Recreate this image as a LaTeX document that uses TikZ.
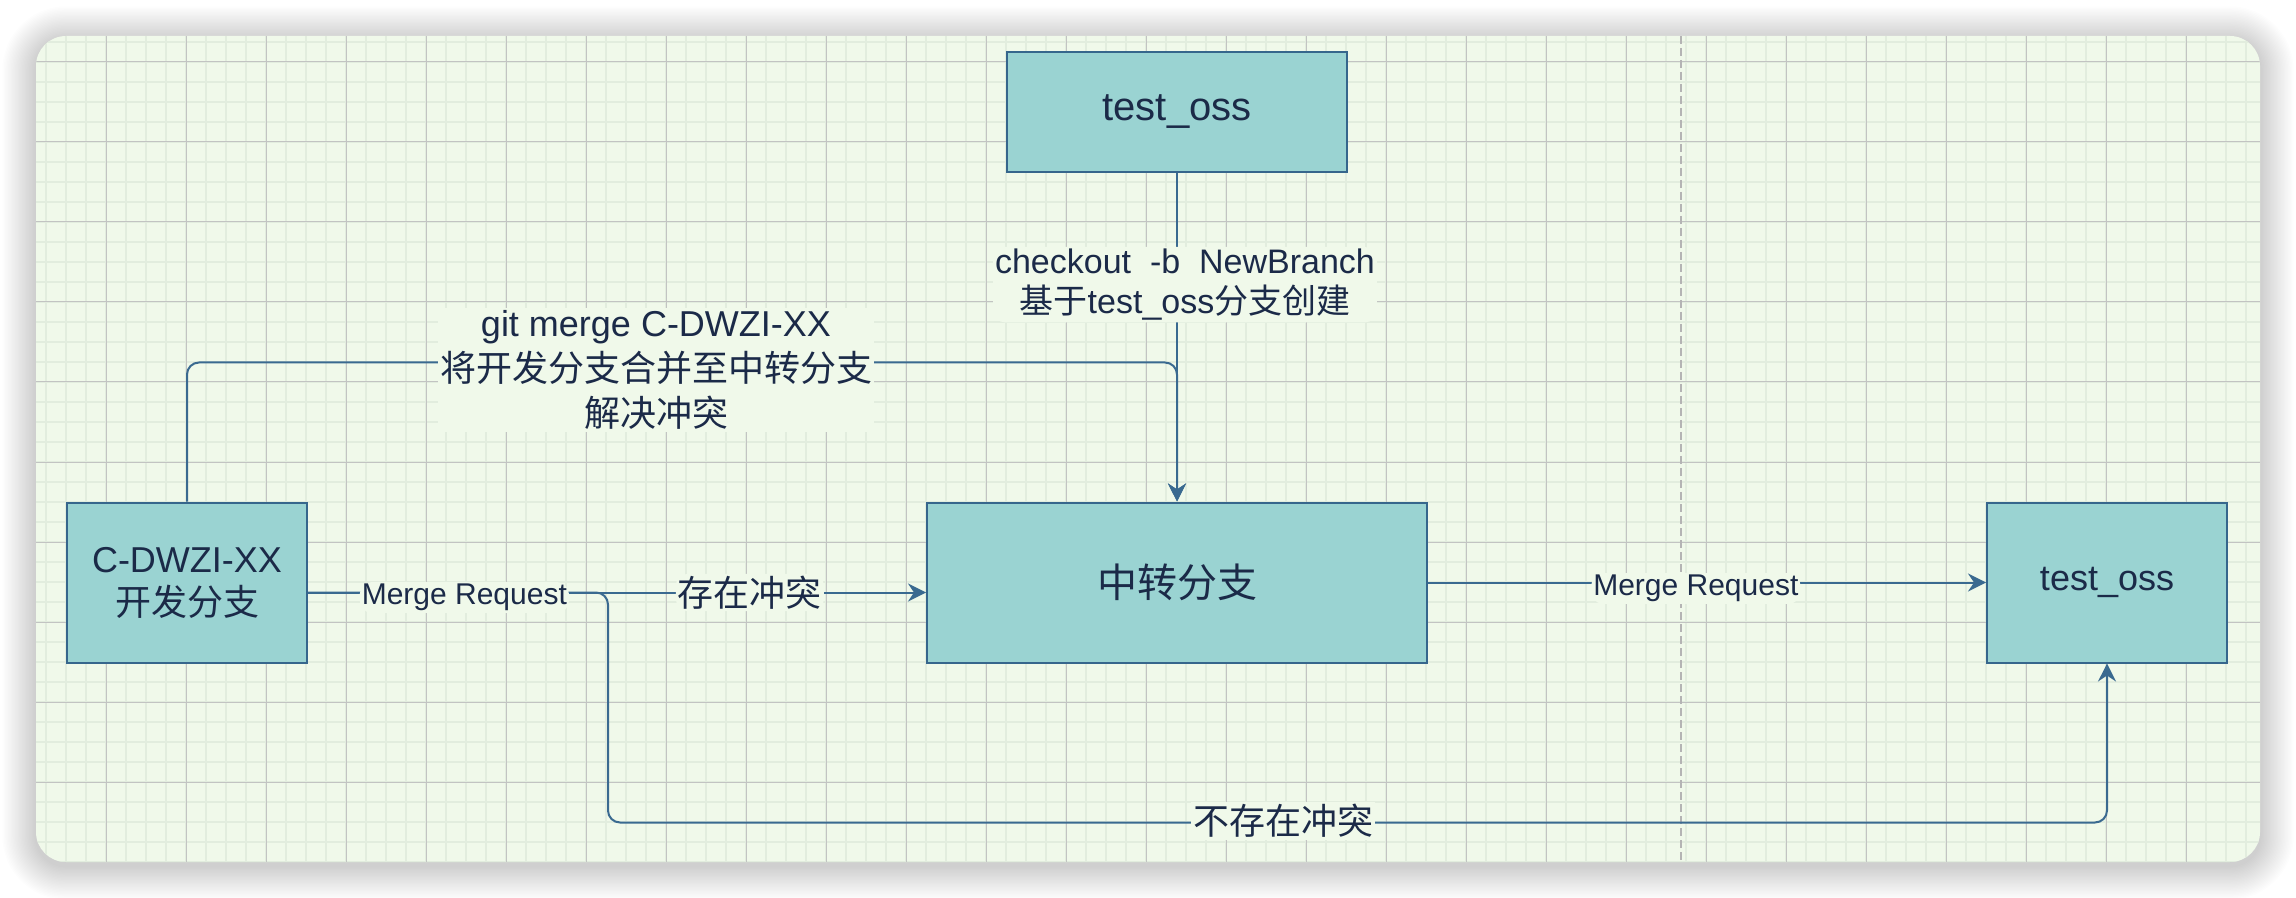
\documentclass[tikz,border=0pt]{standalone}
\usepackage{fontspec}
\setmainfont{Liberation Sans}
\newfontfamily\cjk{Noto Sans CJK SC}
\usetikzlibrary{arrows.meta}
\definecolor{panelbg}{HTML}{F0F9EA}
\definecolor{minorgrid}{HTML}{E2EDDE}
\definecolor{majorgrid}{HTML}{C2C4C2}
\definecolor{boxfill}{HTML}{9AD3D2}
\definecolor{boxline}{HTML}{36668C}
\definecolor{edgecol}{HTML}{3A6A90}
\definecolor{txt}{HTML}{1B2A48}
\definecolor{dashcol}{HTML}{B4B4B4}
\begin{document}
\begin{tikzpicture}[x=0.5pt,y=-0.5pt,
  box/.style={draw=boxline, line width=1pt, fill=boxfill, text=txt, inner sep=0pt, align=center},
  edge/.style={draw=edgecol, line width=1pt, rounded corners=6pt, -{Stealth[length=9pt,width=9pt,inset=3pt]}},
  lbl/.style={fill=panelbg, text=txt, inner sep=1pt, align=center},
  f40/.style={font=\fontsize{20}{24}\selectfont},
  f36/.style={font=\fontsize{18}{21.5}\selectfont},
  f36l/.style={font=\fontsize{18}{22.5}\selectfont},
  f34/.style={font=\fontsize{17}{20}\selectfont},
  f30/.style={font=\fontsize{15}{18}\selectfont},
]
\useasboundingbox (0,0) rectangle (2296,898);
\fill[white] (0,0) rectangle (2296,898);
% shadow
\foreach \i in {1,...,24}
  \fill[black, opacity=0.009, rounded corners=15pt+\i*0.7pt]
    (36-1.4*\i, 40-1.4*\i) rectangle (2260+1.4*\i, 866+1.4*\i);
% panel
\fill[panelbg, rounded corners=15pt] (36,36) rectangle (2260,862);
\begin{scope}
  \clip[rounded corners=15pt] (36,36) rectangle (2260,862);
  \foreach \x in {46,66,...,2260} \draw[minorgrid, line width=1pt] (\x,36) -- (\x,862);
  \foreach \y in {42,62,...,862} \draw[minorgrid, line width=1pt] (36,\y) -- (2260,\y);
  \foreach \x in {106,186,...,2260} \draw[majorgrid, line width=0.5pt] (\x,36) -- (\x,862);
  \foreach \y in {62,142,...,862} \draw[majorgrid, line width=0.5pt] (36,\y) -- (2260,\y);
\end{scope}
\draw[dashcol, line width=0.8pt, dash pattern=on 4pt off 2pt] (1681,36) -- (1681,862);

% nodes
\node[box, f40, minimum width=170pt, minimum height=60pt] (top) at (1177,112) {test\_oss};
\node[box, f36, minimum width=120pt, minimum height=80pt] (dev) at (187,582.5) {C-DWZI-XX\\{\cjk 开发分支}};
\node[box, f40, minimum width=250pt, minimum height=80pt] (mid) at (1177,582.5) {\cjk 中转分支};
\node[box, f36, minimum width=120pt, minimum height=80pt] (right) at (2107,582.5) {test\_oss};

% edges
\draw[edge] (dev.north) -- ++(0,-139) -| (mid.north);
\draw[edge] (top.south) -- node[lbl, f34, pos=0.34, xshift=4pt] {checkout\ \ -b\ \ NewBranch\\{\cjk 基于}test\_oss{\cjk 分支创建}} (mid.north);
\draw[edge] ([yshift=-5pt]dev.east) -- ++(300,0) -- ++(0,230) -| (right.south);
\draw[edge] ([yshift=-5pt]dev.east) -- node[lbl, f30, pos=0.253, yshift=-2.5pt] {Merge Request}
  node[lbl, f36, pos=0.715] {\cjk 存在冲突} ([yshift=-5pt]mid.west);
\draw[edge] (mid.east) -- node[lbl, f30, pos=0.48, yshift=-3pt] {Merge Request} (right.west);

% labels on routed edges
\node[lbl, f36l] (lblmerge) at (656,370) {git merge C-DWZI-XX\\{\cjk 将开发分支合并至中转分支}\\{\cjk 解决冲突}};
\node[lbl, f36] (lblnoconf) at (1283,821) {\cjk 不存在冲突};
\end{tikzpicture}
\end{document}
